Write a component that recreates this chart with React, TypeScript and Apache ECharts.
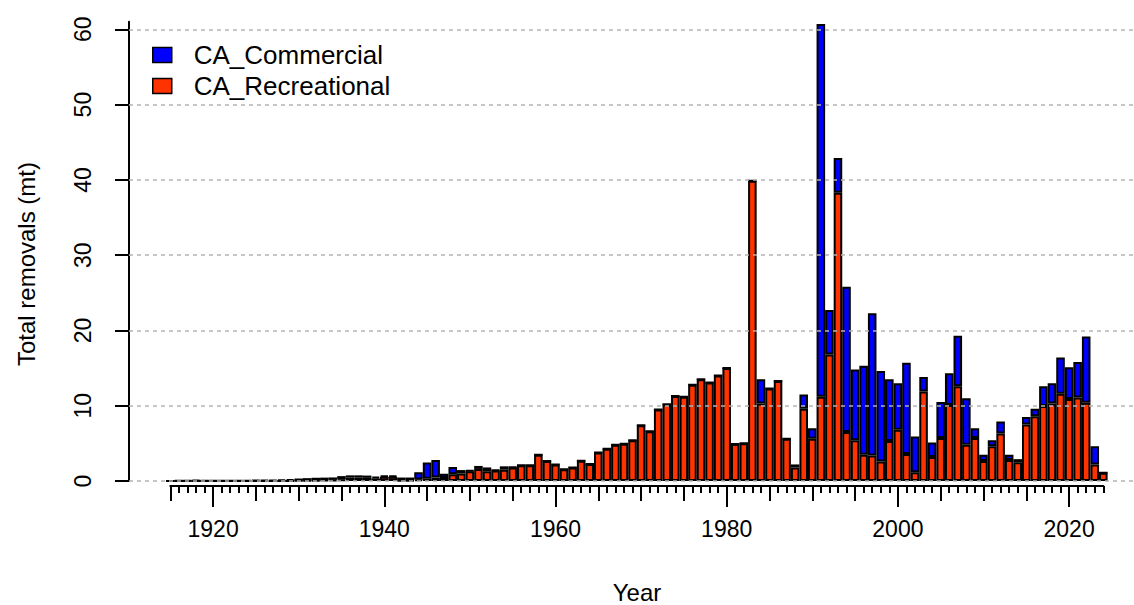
import React, { useEffect, useRef } from "react";
import * as echarts from "echarts";

const FIRST_YEAR = 1915;
const LAST_YEAR = 2024;
const years: number[] = Array.from({ length: LAST_YEAR - FIRST_YEAR + 1 }, (_, i) => FIRST_YEAR + i);

// CA_Recreational removals (mt), 1915 .. 2024
const recreational: number[] = [
  0, 0, 0, 0, 0, // 1915-1919
  0, 0, 0, 0, 0, 0, 0, 0, 0.02, 0.03, // 1920s
  0.05, 0.06, 0.08, 0.1, 0.15, 0.2, 0.45, 0.45, 0.42, 0.35, // 1930s
  0.55, 0.55, 0.08, 0.08, 0.2, 0.3, 0.45, 0.4, 0.9, 1.0, // 1940s
  1.3, 1.6, 1.3, 1.4, 1.5, 1.8, 2.1, 2.1, 3.5, 2.65, // 1950s
  2.2, 1.55, 1.8, 2.7, 2.25, 3.8, 4.3, 4.8, 4.95, 5.4, // 1960s
  7.4, 6.6, 9.5, 10.2, 11.3, 11.2, 12.8, 13.5, 13.1, 14.0, // 1970s
  15.0, 4.9, 5.0, 39.9, 10.3, 12.3, 13.3, 5.6, 1.8, 9.6, // 1980s
  5.6, 11.2, 16.8, 38.3, 6.5, 5.4, 3.5, 3.4, 2.6, 5.3, // 1990s
  6.8, 3.6, 1.15, 11.9, 3.2, 5.7, 10.1, 12.6, 4.8, 5.7, // 2000s
  2.65, 4.6, 6.3, 2.8, 2.5, 7.5, 8.6, 9.95, 10.3, 11.6, // 2010s
  10.9, 11.1, 10.4, 2.2, 1.1, // 2020-2024
];

// CA_Commercial removals (mt), 1915 .. 2024
const commercial: number[] = [
  0.03, 0.04, 0.05, 0.15, 0.05, // 1915-1919
  0.04, 0.04, 0.05, 0.06, 0.08, 0.1, 0.12, 0.12, 0.15, 0.2, // 1920s
  0.28, 0.32, 0.35, 0.35, 0.32, 0.45, 0.3, 0.3, 0.3, 0.2, // 1930s
  0.15, 0.15, 0.38, 0.38, 0.95, 2.15, 2.35, 0.55, 0.95, 0.45, // 1940s
  0.1, 0.4, 0.5, 0.05, 0.45, 0.05, 0, 0, 0, 0, // 1950s
  0, 0, 0, 0, 0, 0, 0, 0, 0, 0, // 1960s
  0, 0, 0, 0, 0, 0, 0, 0, 0, 0, // 1970s
  0, 0, 0, 0, 3.2, 0, 0, 0, 0.4, 1.9, // 1980s
  1.4, 49.5, 5.9, 4.6, 19.3, 9.4, 11.8, 18.9, 12.0, 8.2, // 1990s
  6.2, 12.1, 4.75, 1.9, 1.9, 4.8, 4.2, 6.7, 6.2, 1.3, // 2000s
  0.85, 0.8, 1.6, 0.7, 0.4, 1.0, 1.0, 2.65, 2.7, 4.8, // 2010s
  4.2, 4.7, 8.8, 2.4, 0, // 2020-2024
];

const yTicks: number[] = [0, 10, 20, 30, 40, 50, 60];
const seriesNames = { rec: "CA_Recreational", com: "CA_Commercial" };

const FONT = "'Liberation Sans', Arial, Helvetica, sans-serif";
const ORANGE = "#FF3300";
const BLUE = "#0000FF";
const BLACK = "#000000";

export default function App() {
  const ref = useRef<HTMLDivElement>(null);

  useEffect(() => {
    document.body.style.margin = "0";
    if (!ref.current) return;
    const chart = echarts.init(ref.current, undefined, { renderer: "svg" });
    const yearLabels = years.map(String);
    const tickLine = { color: BLACK, width: 2 };

    const baseX = {
      gridIndex: 0,
      type: "category" as const,
      data: yearLabels,
      position: "bottom" as const,
      offset: 5,
      boundaryGap: true,
      axisLine: { show: false, onZero: false },
      splitLine: { show: false },
    };

    const option: any = {
      animation: false,
      backgroundColor: "#ffffff",
      textStyle: { fontFamily: FONT },
      grid: [
        { left: 166, right: 26.4, top: 21.8, bottom: 124 },
        { left: 129, right: 0, top: 21.8, bottom: 124 },
        { left: 129, right: 0, top: 29.3, bottom: 124 },
        { left: 170.3, right: 30.7, top: 21.8, bottom: 124 },
      ],
      legend: {
        data: [seriesNames.com, seriesNames.rec],
        orient: "vertical",
        left: 152,
        top: 42,
        padding: 0,
        itemWidth: 19,
        itemHeight: 15,
        itemGap: 5,
        selectedMode: false,
        icon: "rect",
        z: 10,
        itemStyle: { borderWidth: 1.5 },
        textStyle: {
          fontSize: 26,
          color: BLACK,
          fontFamily: FONT,
          padding: [0, 0, 0, 17],
        },
      },
      xAxis: [
        {
          ...baseX,
          axisTick: { show: true, interval: 0, alignWithLabel: true, length: 7, lineStyle: tickLine },
          axisLabel: { show: false },
        },
        {
          ...baseX,
          axisTick: {
            show: true,
            interval: (i: number) => years[i] % 5 === 0,
            alignWithLabel: true,
            length: 15,
            lineStyle: tickLine,
          },
          axisLabel: { show: false },
        },
        {
          ...baseX,
          axisTick: {
            show: true,
            interval: (i: number) => years[i] % 20 === 0,
            alignWithLabel: true,
            length: 21,
            lineStyle: tickLine,
          },
          axisLabel: {
            show: true,
            interval: (i: number) => years[i] % 20 === 0,
            fontSize: 23,
            margin: 31,
            color: BLACK,
            fontFamily: FONT,
          },
        },
        { gridIndex: 1, type: "value", show: false, min: 0, max: 1 },
        { gridIndex: 2, type: "value", show: false, min: 0, max: 1 },
        {
          gridIndex: 3,
          type: "value",
          min: 0,
          max: 1,
          position: "bottom",
          offset: 5,
          axisLine: { show: true, onZero: false, lineStyle: tickLine },
          axisTick: { show: false },
          axisLabel: { show: false },
          splitLine: { show: false },
        },
      ],
      yAxis: [
        { gridIndex: 0, type: "value", min: 0, max: 61, show: false },
        {
          gridIndex: 1,
          type: "value",
          min: 0,
          max: 61,
          interval: 10,
          position: "left",
          axisLine: { show: true, onZero: false, lineStyle: tickLine },
          axisTick: { show: true, length: 14, customValues: yTicks, lineStyle: tickLine },
          axisLabel: {
            show: true,
            customValues: yTicks,
            rotate: 90,
            fontSize: 23,
            margin: 35,
            color: BLACK,
            fontFamily: FONT,
            formatter: (v: number) => (v % 10 === 0 ? String(v) : ""),
          },
          splitLine: { show: false },
        },
        {
          gridIndex: 2,
          type: "value",
          min: 0,
          max: 60,
          interval: 10,
          z: 5,
          axisLine: { show: false },
          axisTick: { show: false },
          axisLabel: { show: false },
          splitLine: { show: true, lineStyle: { color: "#b4b4b4", type: [4, 4], width: 1.5 } },
        },
        { gridIndex: 3, type: "value", min: 0, max: 61, show: false },
      ],
      series: [
        {
          name: seriesNames.rec,
          type: "bar",
          stack: "total",
          xAxisIndex: 0,
          yAxisIndex: 0,
          data: recreational,
          barCategoryGap: "0%",
          itemStyle: { color: ORANGE, borderColor: BLACK, borderWidth: 2 },
        },
        {
          name: seriesNames.com,
          type: "bar",
          stack: "total",
          xAxisIndex: 0,
          yAxisIndex: 0,
          data: commercial,
          barCategoryGap: "0%",
          itemStyle: { color: BLUE, borderColor: BLACK, borderWidth: 2 },
        },
      ],
      graphic: [
        {
          type: "text",
          x: 637,
          y: 592,
          style: {
            text: "Year",
            fontSize: 24,
            fontFamily: FONT,
            fill: BLACK,
            align: "center",
            verticalAlign: "middle",
          },
        },
        {
          type: "text",
          x: 26,
          y: 264,
          rotation: Math.PI / 2,
          style: {
            text: "Total removals (mt)",
            fontSize: 24,
            fontFamily: FONT,
            fill: BLACK,
            align: "center",
            verticalAlign: "middle",
          },
        },
      ],
    };

    chart.setOption(option);
    return () => chart.dispose();
  }, []);

  return <div ref={ref} style={{ width: 1134, height: 605 }} />;
}
